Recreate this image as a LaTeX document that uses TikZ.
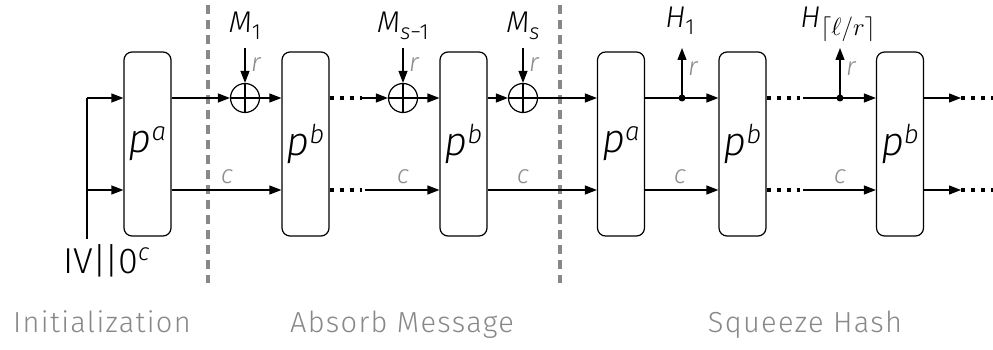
\documentclass[tikz,border=0pt]{standalone}
\usepackage{fontspec}
\setmainfont{Fira Sans}[UprightFont=* Light, ItalicFont=* Light Italic]
\newfontfamily\labelfont[LetterSpace=4.5, UprightFont=* Light]{Fira Sans}
\usetikzlibrary{arrows.meta}
\definecolor{sgray}{HTML}{888888}
\definecolor{lgray}{HTML}{8C8C8C}
\newcommand{\lsub}[1]{\raisebox{-7pt}{\fontsize{22}{22}\selectfont #1}}
\newcommand{\lsup}[1]{\raisebox{12pt}{\fontsize{26}{26}\selectfont #1}}
\begin{document}
\begin{tikzpicture}[x=1pt,y=-1pt,
  perm/.style={draw, line width=1.2pt, rounded corners=8pt, minimum width=47pt, minimum height=184pt, inner sep=0pt, font=\fontsize{40}{42}\selectfont\itshape},
  flow/.style={line width=1.2pt, -{Triangle[length=12pt,width=9pt]}},
  plain/.style={line width=1.2pt},
  dots/.style={line width=4pt, dash pattern=on 4pt off 6pt},
  sep/.style={draw=sgray, line width=3.5pt, dash pattern=on 9pt off 6pt},
  xorc/.style={circle, draw, line width=1.2pt, minimum size=29pt, inner sep=0pt},
  tap/.style={circle, fill, minimum size=7pt, inner sep=0pt},
  lab/.style={font=\fontsize{30}{31}\selectfont\itshape, anchor=base, inner sep=0pt},
  small/.style={text=lgray, font=\fontsize{26}{26}\selectfont\itshape, inner sep=0pt, anchor=base},
  sect/.style={text=sgray, font=\labelfont\fontsize{29}{30}\selectfont, anchor=base, inner sep=0pt}
]
\useasboundingbox (0,0) rectangle (993,350);

% separators
\coordinate (s1a) at (208,5); \coordinate (s1b) at (208,283);
\coordinate (s2a) at (560,5); \coordinate (s2b) at (560,283);
\draw[sep] (s1a) -- (s1b);
\draw[sep] (s2a) -- (s2b);

% permutation boxes
\node[perm] (b1) at (147.5,144) {p\lsup{a}};
\node[perm] (b2) at (305.5,144) {p\lsup{b}};
\node[perm] (b3) at (463.5,144) {p\lsup{b}};
\node[perm] (b4) at (621,144) {p\lsup{a}};
\node[perm] (b5) at (742.5,144) {p\lsup{b}};
\node[perm] (b6) at (900,144) {p\lsup{b}};

\coordinate (top) at (0,98);
\coordinate (bot) at (0,190);

% initial input
\coordinate (ivt) at (87,98);
\coordinate (ivb) at (87,190);
\coordinate (iv) at (87,239);
\draw[plain] (iv) -- (ivt);
\draw[flow] (ivt) -- (b1.west |- top);
\draw[flow] (ivb) -- (b1.west |- bot);
\node[anchor=base west, inner sep=0pt, font=\fontsize{36}{38}\selectfont] (ivl) at (63,273) {IV\kern-1pt|\kern-2pt|\kern-1pt0\raisebox{13pt}{\fontsize{24}{24}\selectfont\itshape c}};

% xor nodes
\node[xorc] (x1) at (245,98) {};
\node[xorc] (x2) at (403,98) {};
\node[xorc] (x3) at (523,98) {};
\foreach \x in {x1,x2,x3}{
  \draw[plain] (\x.north) -- (\x.south);
  \draw[plain] (\x.west) -- (\x.east);
}

% message inputs
\coordinate (m1) at (245,48);
\coordinate (m2) at (403,48);
\coordinate (m3) at (523,48);
\draw[flow] (m1) -- (x1.north);
\draw[flow] (m2) -- (x2.north);
\draw[flow] (m3) -- (x3.north);
\node[lab] (lm1) at (245,33) {M\lsub{\upshape 1}};
\node[lab] (lm2) at (403,33) {M\lsub{s\upshape −1}};
\node[lab] (lm3) at (523,33) {M\lsub{s}};
\node[small, anchor=base west] (r1) at (251,72) {r};
\node[small, anchor=base west] (r2) at (409,72) {r};
\node[small, anchor=base west] (r3) at (529,72) {r};

% top row
\draw[flow] (b1.east |- top) -- (x1.west);
\draw[flow] (x1.east) -- (b2.west |- top);
\coordinate (d1) at (362,98);
\draw[dots] (b2.east |- top) -- (d1);
\draw[flow] (d1) -- (x2.west);
\draw[flow] (x2.east) -- (b3.west |- top);
\draw[flow] (b3.east |- top) -- (x3.west);
\draw[flow] (x3.east) -- (b4.west |- top);

\node[tap] (t1) at (682,98) {};
\node[tap] (t2) at (840,98) {};
\draw[plain] (b4.east |- top) -- (t1.center);
\draw[flow] (t1.center) -- (b5.west |- top);
\coordinate (h1) at (682,48);
\draw[flow] (t1.center) -- (h1);
\coordinate (d2) at (800,98);
\coordinate (d2s) at (803,98);
\draw[dots] (b5.east |- top) -- (d2);
\draw[plain] (d2s) -- (t2.center);
\draw[flow] (t2.center) -- (b6.west |- top);
\coordinate (h2) at (840,48);
\draw[flow] (t2.center) -- (h2);
\coordinate (o1) at (961,98);
\coordinate (o1e) at (993,98);
\draw[flow] (b6.east |- top) -- (o1);
\draw[dots] (o1) -- (o1e);

\node[lab] (lh1) at (680,28) {H\lsub{\upshape 1}};
\node[lab] (lh2) at (838,28) {H\raisebox{-8pt}{\fontsize{25}{25}\selectfont$\lceil\ell/r\rceil$}};
\node[small, anchor=base west] (r4) at (688,76) {r};
\node[small, anchor=base west] (r5) at (846,76) {r};

% bottom row
\draw[flow] (b1.east |- bot) -- (b2.west |- bot);
\coordinate (d3) at (362,190);
\coordinate (d3s) at (365,190);
\draw[dots] (b2.east |- bot) -- (d3);
\draw[flow] (d3s) -- (b3.west |- bot);
\draw[flow] (b3.east |- bot) -- (b4.west |- bot);
\draw[flow] (b4.east |- bot) -- (b5.west |- bot);
\coordinate (d4) at (800,190);
\coordinate (d4s) at (803,190);
\draw[dots] (b5.east |- bot) -- (d4);
\draw[flow] (d4s) -- (b6.west |- bot);
\coordinate (o2) at (961,190);
\coordinate (o2e) at (993,190);
\draw[flow] (b6.east |- bot) -- (o2);
\draw[dots] (o2) -- (o2e);

\node[small] (c1) at (227,183) {c};
\node[small] (c2) at (403,183) {c};
\node[small] (c3) at (523,183) {c};
\node[small] (c4) at (680,183) {c};
\node[small] (c5) at (840,183) {c};

% section labels
\node[sect] (sec1) at (102,332) {Initialization};
\node[sect] (sec2) at (402,332) {Absorb Message};
\node[sect] (sec3) at (805,332) {Squeeze Hash};
\end{tikzpicture}
\end{document}
